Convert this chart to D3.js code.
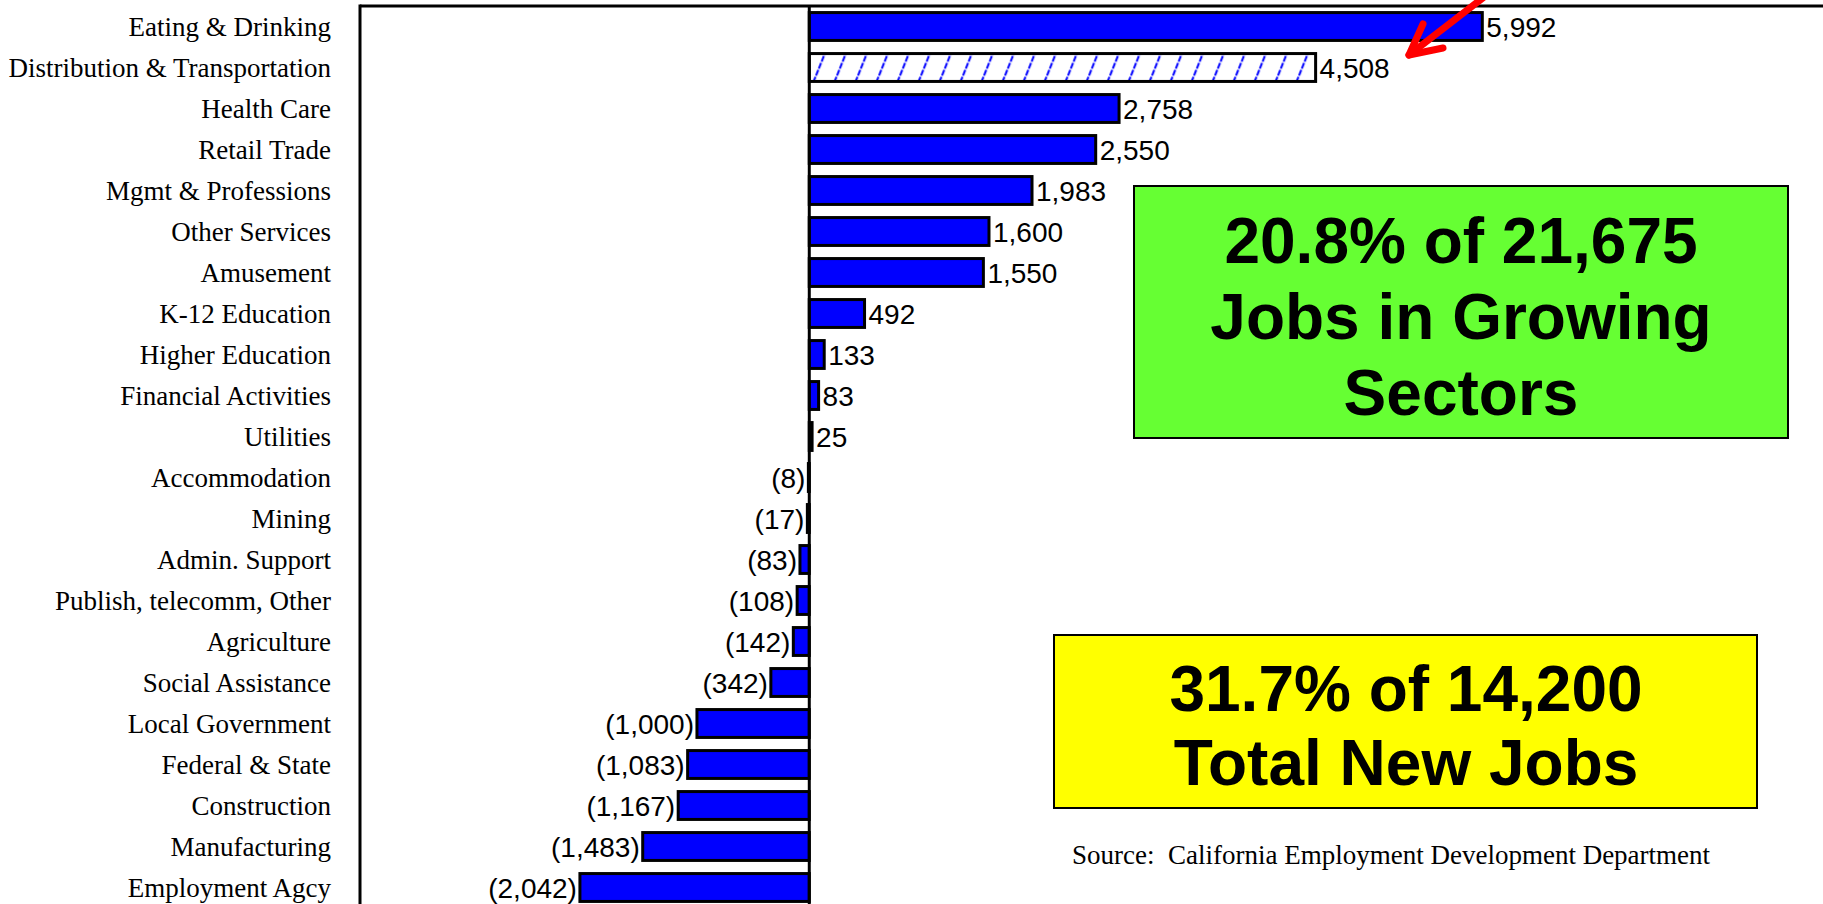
<!DOCTYPE html>
<html>
<head>
<meta charset="utf-8">
<script src="https://cdn.jsdelivr.net/npm/d3@7"></script>
<style>
  html, body { margin: 0; padding: 0; background: #ffffff; }
  svg { display: block; }
</style>
</head>
<body>
<script>
// ---- Data ----
const categories = [
  "Eating & Drinking", "Distribution & Transportation", "Health Care", "Retail Trade",
  "Mgmt & Professions", "Other Services", "Amusement", "K-12 Education",
  "Higher Education", "Financial Activities", "Utilities", "Accommodation",
  "Mining", "Admin. Support", "Publish, telecomm, Other", "Agriculture",
  "Social Assistance", "Local Government", "Federal & State", "Construction",
  "Manufacturing", "Employment Agcy"
];
const values = [
  5992, 4508, 2758, 2550, 1983, 1600, 1550, 492, 133, 83, 25,
  -8, -17, -83, -108, -142, -342, -1000, -1083, -1167, -1483, -2042
];
const hatchedCategories = ["Distribution & Transportation"];
const xDomain = [-4000, 9000];
const greenBoxLines = ["20.8% of 21,675", "Jobs in Growing", "Sectors"];
const yellowBoxLines = ["31.7% of 14,200", "Total New Jobs"];
const sourceText = "Source:  California Employment Development Department";

// ---- Layout ----
const W = 1823, H = 904;
const plotLeft = 360, plotTop = 6;

const svg = d3.select("body").append("svg")
  .attr("width", W).attr("height", H);

svg.append("rect").attr("width", W).attr("height", H).attr("fill", "#ffffff");

const x = d3.scaleLinear()
  .domain(xDomain)
  .range([plotLeft, plotLeft + (xDomain[1] - xDomain[0]) * 0.11232]);

const y = d3.scaleBand()
  .domain(categories)
  .range([plotTop, plotTop + 22 * 41])
  .paddingInner(0.32)
  .paddingOuter(0.16);

const defs = svg.append("defs");
const hatchY = y(hatchedCategories[0]);
const bw = y.bandwidth();
const pat = defs.append("pattern")
  .attr("id", "hatch")
  .attr("patternUnits", "userSpaceOnUse")
  .attr("width", 21).attr("height", bw)
  .attr("x", x(0)).attr("y", hatchY);
pat.append("rect").attr("width", 21).attr("height", bw).attr("fill", "#ffffff");
pat.append("line")
  .attr("x1", 4).attr("y1", bw + 1).attr("x2", 16).attr("y2", -1)
  .attr("stroke", "#0000ff").attr("stroke-width", 2)
  .attr("stroke-dasharray", "6,1.5");

const data = categories.map((c, i) => ({ cat: c, v: values[i] }));

// Frame: top line & left line
svg.append("line")
  .attr("x1", plotLeft).attr("x2", W).attr("y1", plotTop).attr("y2", plotTop)
  .attr("stroke", "#000").attr("stroke-width", 3);
svg.append("line")
  .attr("x1", plotLeft).attr("x2", plotLeft).attr("y1", plotTop - 1.5).attr("y2", H)
  .attr("stroke", "#000").attr("stroke-width", 3);

// Category labels
svg.append("g").selectAll("text")
  .data(data).join("text")
  .attr("x", 331)
  .attr("y", d => y(d.cat) + y.bandwidth() / 2 + 9)
  .attr("text-anchor", "end")
  .attr("font-family", "'Liberation Serif', 'Times New Roman', serif")
  .attr("font-size", 27)
  .attr("fill", "#000")
  .text(d => d.cat);

// Bars
svg.append("g").selectAll("rect")
  .data(data).join("rect")
  .attr("x", d => x(Math.min(0, d.v)))
  .attr("y", d => y(d.cat))
  .attr("width", d => Math.abs(x(d.v) - x(0)))
  .attr("height", y.bandwidth())
  .attr("fill", d => hatchedCategories.includes(d.cat) ? "url(#hatch)" : "#0000ff")
  .attr("stroke", "#000")
  .attr("stroke-width", 3);

// Zero line
svg.append("line")
  .attr("x1", x(0)).attr("x2", x(0)).attr("y1", plotTop).attr("y2", H)
  .attr("stroke", "#000").attr("stroke-width", 3);

// Value labels
const fmt = d3.format(",");
svg.append("g").selectAll("text")
  .data(data).join("text")
  .attr("x", d => d.v >= 0 ? x(d.v) + 4 : x(d.v) - 3)
  .attr("y", d => y(d.cat) + y.bandwidth() / 2 + 10)
  .attr("text-anchor", d => d.v >= 0 ? "start" : "end")
  .attr("font-family", "'Liberation Sans', Arial, sans-serif")
  .attr("font-size", 28)
  .attr("fill", "#000")
  .text(d => d.v >= 0 ? fmt(d.v) : "(" + fmt(-d.v) + ")");

// Red arrow
const arrow = svg.append("g")
  .attr("stroke", "#ff0000").attr("stroke-width", 7)
  .attr("stroke-linecap", "round").attr("stroke-linejoin", "round").attr("fill", "none");
arrow.append("line").attr("x1", 1497).attr("y1", -13).attr("x2", 1409).attr("y2", 55);
arrow.append("path").attr("d", "M1423,24 L1409,55 L1443,48");

// Green box
svg.append("rect")
  .attr("x", 1134).attr("y", 186).attr("width", 654).attr("height", 252)
  .attr("fill", "#66ff33").attr("stroke", "#000").attr("stroke-width", 2);
svg.append("g").selectAll("text")
  .data(greenBoxLines).join("text")
  .attr("x", 1461)
  .attr("y", (d, i) => 263 + i * 76)
  .attr("text-anchor", "middle")
  .attr("font-family", "'Liberation Sans', Arial, sans-serif")
  .attr("font-weight", "bold")
  .attr("font-size", 64)
  .attr("fill", "#000")
  .text(d => d);

// Yellow box
svg.append("rect")
  .attr("x", 1054).attr("y", 635).attr("width", 703).attr("height", 173)
  .attr("fill", "#ffff00").attr("stroke", "#000").attr("stroke-width", 2);
svg.append("g").selectAll("text")
  .data(yellowBoxLines).join("text")
  .attr("x", 1406)
  .attr("y", (d, i) => 711 + i * 74)
  .attr("text-anchor", "middle")
  .attr("font-family", "'Liberation Sans', Arial, sans-serif")
  .attr("font-weight", "bold")
  .attr("font-size", 64)
  .attr("fill", "#000")
  .text(d => d);

// Source
svg.append("text")
  .attr("x", 1072).attr("y", 864)
  .attr("font-family", "'Liberation Serif', 'Times New Roman', serif")
  .attr("font-size", 27)
  .attr("fill", "#000")
  .attr("xml:space", "preserve")
  .style("white-space", "pre")
  .text(sourceText);
</script>
</body>
</html>
